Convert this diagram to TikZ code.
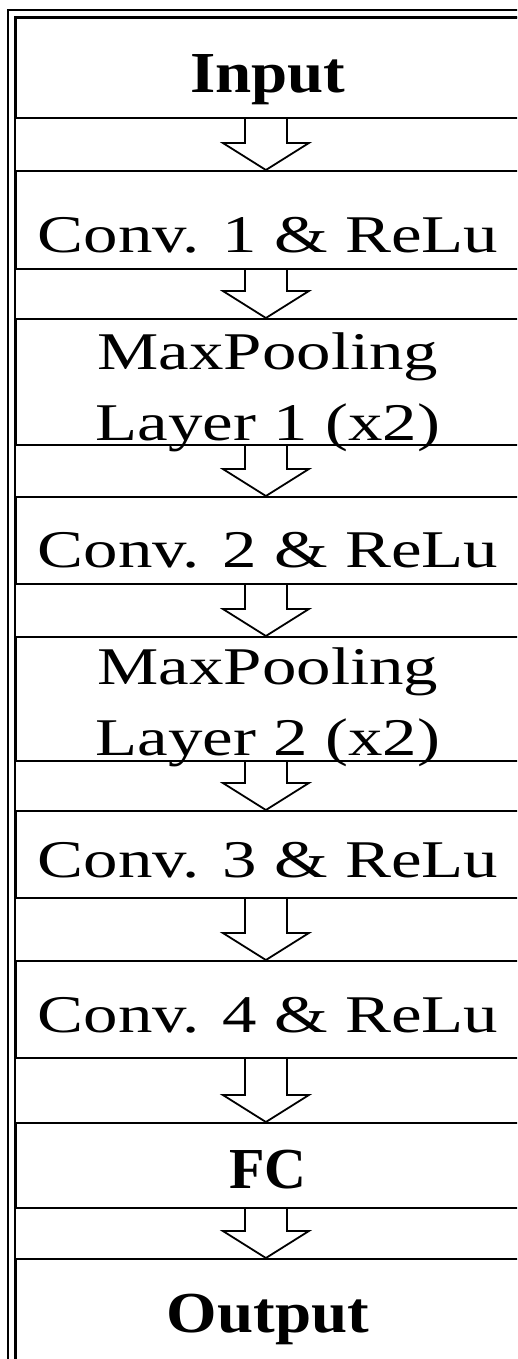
\documentclass[tikz,border=0pt]{standalone}
\usepackage{fontspec}
\setmainfont{Liberation Serif}
\usetikzlibrary{calc}

% widened text, as the boxes are set in a stretched face
\newcommand{\wtxt}[2][1.3]{\scalebox{#1}[1]{#2}}

\tikzset{
  layer/.style={draw, line width=1.8pt, anchor=north west, minimum width=504pt,
    inner sep=0pt, align=center, font=\fontsize{53}{71}\selectfont},
  io/.style={layer, font=\fontsize{58}{70}\selectfont\bfseries},
  flow/.style={draw, line width=1.8pt, line join=miter,
    to path={let \p1=(\tikztostart), \p2=(\tikztotarget) in
      (\x1-21pt,\y1) -- (\x1-21pt,\y2+27pt) -- (\x1-43pt,\y2+27pt) -- (\x2,\y2)
      -- (\x1+43pt,\y2+27pt) -- (\x1+21pt,\y2+27pt) -- (\x1+21pt,\y1)}},
  frame/.style={line width=2.4pt}
}

\begin{document}
\begin{tikzpicture}[x=1pt, y=-1pt]
    \useasboundingbox (0,0) rectangle (517,1359);
    \clip (0,0) rectangle (517,1359);

    % Double border
    \draw[frame] (8,1400) |- (540,10);
    \draw[frame] (15,1400) |- (540,17);

    % Layers (text height/depth put the baseline where it sits in each box)
    \node[io, text height=75pt, text depth=25pt] (in) at (15,17) {\wtxt[1.12]{Input}};
    \node[layer, text height=82pt, text depth=16pt] (c1) at (15,170) {\wtxt{Conv. 1 \& ReLu}};
    \node[layer, text height=122pt, text depth=4pt] (p1) at (15,318)
        {\wtxt{MaxPooling}\\\wtxt{Layer 1 (x2)}};
    \node[layer, text height=71pt, text depth=16pt] (c2) at (15,496) {\wtxt{Conv. 2 \& ReLu}};
    \node[layer, text height=119pt, text depth=5pt] (p2) at (15,636)
        {\wtxt{MaxPooling}\\\wtxt{Layer 2 (x2)}};
    \node[layer, text height=67pt, text depth=20pt] (c3) at (15,810) {\wtxt{Conv. 3 \& ReLu}};
    \node[layer, text height=72pt, text depth=25pt] (c4) at (15,960) {\wtxt{Conv. 4 \& ReLu}};
    \node[io, text height=66pt, text depth=19pt] (fc) at (15,1122) {\wtxt[1.0]{FC}};
    \node[io, text height=74pt, text depth=68pt] (out) at (15,1258) {\wtxt[1.12]{Output}};

    % Hollow arrows between layers
    \draw[flow] ([xshift=-2pt]in.south) to ([xshift=-2pt]c1.north);
    \draw[flow] ([xshift=-2pt]c1.south) to ([xshift=-2pt]p1.north);
    \draw[flow] ([xshift=-2pt]p1.south) to ([xshift=-2pt]c2.north);
    \draw[flow] ([xshift=-2pt]c2.south) to ([xshift=-2pt]p2.north);
    \draw[flow] ([xshift=-2pt]p2.south) to ([xshift=-2pt]c3.north);
    \draw[flow] ([xshift=-2pt]c3.south) to ([xshift=-2pt]c4.north);
    \draw[flow] ([xshift=-2pt]c4.south) to ([xshift=-2pt]fc.north);
    \draw[flow] ([xshift=-2pt]fc.south) to ([xshift=-2pt]out.north);
\end{tikzpicture}
\end{document}
